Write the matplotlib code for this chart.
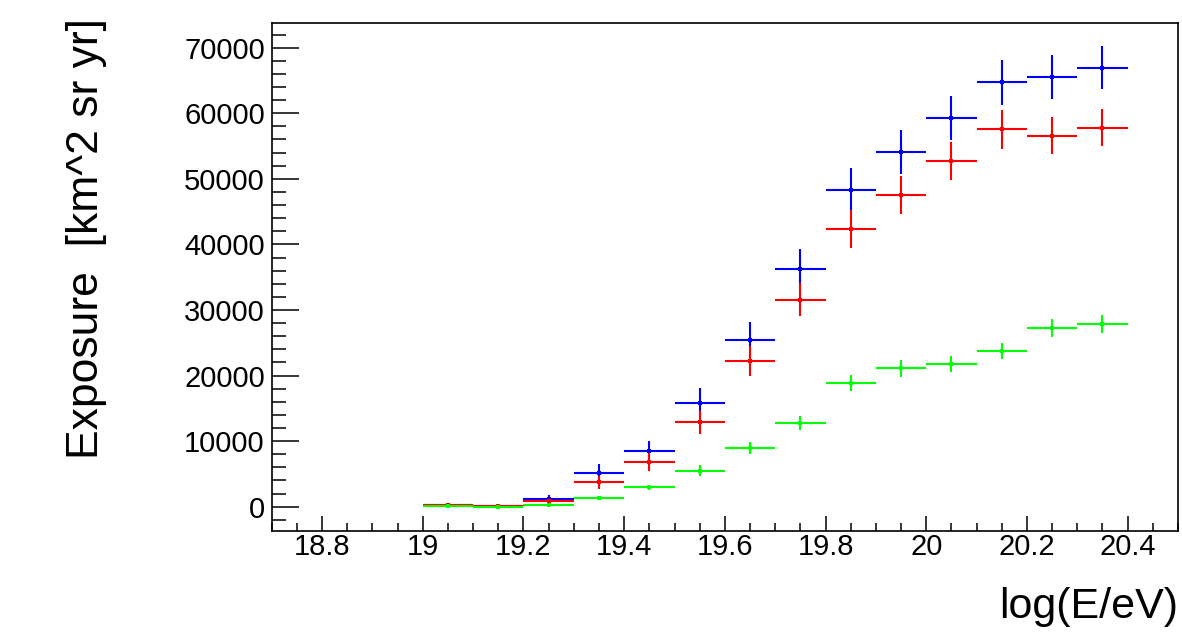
import matplotlib
matplotlib.use("Agg")
import matplotlib.pyplot as plt
from matplotlib.ticker import MultipleLocator, FixedLocator

plt.rcParams['font.family'] = ['Liberation Sans', 'DejaVu Sans']

centers = [19.05, 19.15, 19.25, 19.35, 19.45, 19.55, 19.65, 19.75, 19.85, 19.95, 20.05, 20.15, 20.25, 20.35]
half_width = 0.05

blue = [300, 50, 1170, 5090, 8440, 15870, 25460, 36280, 48320, 54140, 59280, 64720, 65530, 66950]
blue_err = [300, 100, 610, 1370, 1630, 2240, 2690, 3000, 3300, 3350, 3350, 3400, 3300, 3250]
red = [200, 50, 870, 3720, 6870, 12870, 22260, 31550, 42420, 47540, 52720, 57550, 56580, 57800]
red_err = [250, 100, 500, 1020, 1400, 1780, 2290, 2540, 2900, 2950, 2950, 2950, 2800, 2800]
green = [50, 0, 300, 1380, 2930, 5490, 8950, 12810, 18850, 21080, 21750, 23730, 27230, 27850]
green_err = [100, 50, 200, 300, 450, 810, 970, 1070, 1270, 1270, 1200, 1220, 1320, 1320]

x_ticks = [18.8, 19.0, 19.2, 19.4, 19.6, 19.8, 20.0, 20.2, 20.4]
x_ticklabels = ['18.8', '19', '19.2', '19.4', '19.6', '19.8', '20', '20.2', '20.4']
y_ticks = [0, 10000, 20000, 30000, 40000, 50000, 60000, 70000]

W, H = 1182, 636
fig = plt.figure(figsize=(W / 100, H / 100), dpi=100)
ax = fig.add_axes([271.7 / W, 1 - 530.7 / H, (1178 - 271.7) / W, (530.7 - 22.7) / H])

for vals, errs, col in [(blue, blue_err, '#0000ff'), (red, red_err, '#ff0000'), (green, green_err, '#00ff00')]:
    ax.errorbar(centers, vals, xerr=half_width, yerr=errs, fmt='s', color=col,
                markersize=3.4, elinewidth=1.5, capsize=0, markeredgewidth=0)

ax.set_xlim(18.7, 20.5)
ax.set_ylim(-3660, 73810)

ax.xaxis.set_major_locator(FixedLocator(x_ticks))
ax.set_xticklabels(x_ticklabels)
ax.xaxis.set_minor_locator(MultipleLocator(0.05))
ax.yaxis.set_major_locator(FixedLocator(y_ticks))
ax.yaxis.set_minor_locator(MultipleLocator(2000))

ax.tick_params(axis='both', which='both', direction='in', top=False, right=False, width=1.1, colors='black')
ax.tick_params(axis='y', which='major', length=19.4, pad=5, labelsize=21)
ax.tick_params(axis='y', which='minor', length=9.8)
ax.tick_params(axis='x', which='major', length=10.8, pad=1.5, labelsize=21)
ax.tick_params(axis='x', which='minor', length=5.5)

for s in ax.spines.values():
    s.set_linewidth(1.2)

fig.text(98 / W, 1 - 18 / H, 'Exposure  [km^2 sr yr]', rotation=90, rotation_mode='anchor',
         ha='right', va='baseline', fontsize=32)
fig.text(1178 / W, 1 - 618.3 / H, 'log(E/eV)', ha='right', va='baseline', fontsize=31)

fig.savefig('out.png', dpi=100)
